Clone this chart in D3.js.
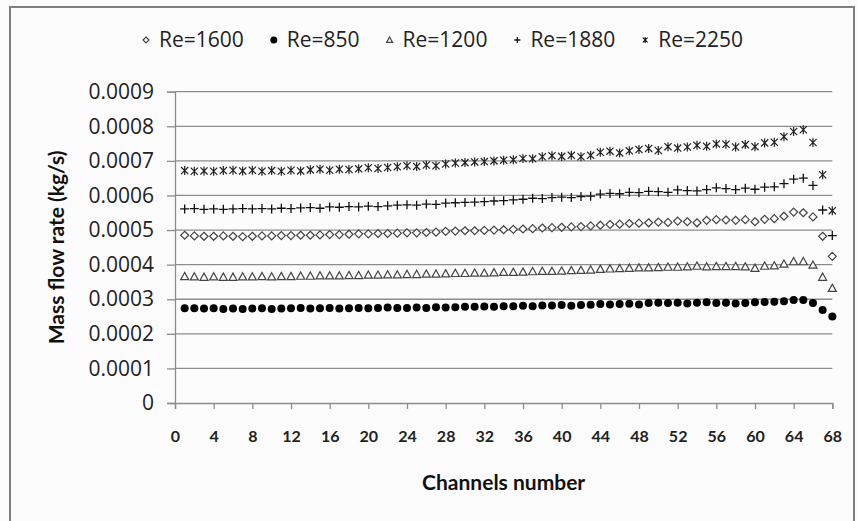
<!DOCTYPE html>
<html>
<head>
<meta charset="utf-8">
<script src="https://cdn.jsdelivr.net/npm/d3@7"></script>
<style>
  html, body { margin: 0; padding: 0; background: #fcfcfc; }
  svg { display: block; }
</style>
</head>
<body>
<svg id="chart" width="858" height="521"></svg>
<script>
// ---------------- DATA ----------------
const channels = d3.range(1, 69);
const xTicks = [0, 4, 8, 12, 16, 20, 24, 28, 32, 36, 40, 44, 48, 52, 56, 60, 64, 68];
const yTicks = [0, 0.0001, 0.0002, 0.0003, 0.0004, 0.0005, 0.0006, 0.0007, 0.0008, 0.0009];
const yTickLabels = ["0", "0.0001", "0.0002", "0.0003", "0.0004", "0.0005", "0.0006", "0.0007", "0.0008", "0.0009"];
const seriesNames = ["Re=1600", "Re=850", "Re=1200", "Re=1880", "Re=2250"];

const re1600 = [
  0.000485,0.000483,0.000482,0.000482,0.000483,0.000482,0.000481,0.000482,
  0.000483,0.000483,0.000484,0.000484,0.000485,0.000485,0.000486,0.000487,
  0.000487,0.000488,0.000489,0.000489,0.000490,0.000490,0.000491,0.000492,
  0.000492,0.000493,0.000494,0.000496,0.000497,0.000498,0.000498,0.000499,
  0.000500,0.000501,0.000502,0.000503,0.000504,0.000506,0.000507,0.000508,
  0.000509,0.000510,0.000512,0.000514,0.000516,0.000517,0.000519,0.000520,
  0.000521,0.000523,0.000522,0.000526,0.000524,0.000521,0.000528,0.000530,
  0.000529,0.000528,0.000530,0.000524,0.000531,0.000533,
  0.000540,0.000552,0.000550,0.000538,0.000482,0.000424
];
const re850 = [
  0.000274,0.000274,0.000273,0.000274,0.000272,0.000273,0.000272,0.000273,
  0.000274,0.000272,0.000273,0.000274,0.000275,0.000273,0.000274,0.000275,
  0.000273,0.000274,0.000275,0.000274,0.000275,0.000276,0.000275,0.000275,
  0.000276,0.000275,0.000277,0.000276,0.000277,0.000278,0.000278,0.000279,
  0.000278,0.000280,0.000280,0.000281,0.000280,0.000282,0.000282,0.000283,
  0.000281,0.000283,0.000284,0.000286,0.000285,0.000286,0.000287,0.000285,
  0.000289,0.000290,0.000289,0.000290,0.000288,0.000290,0.000291,0.000289,
  0.000290,0.000288,0.000289,0.000291,0.000292,0.000293,
  0.000294,0.000298,0.000298,0.000289,0.000269,0.000250
];
const re1200 = [
  0.000366,0.000365,0.000364,0.000365,0.000364,0.000364,0.000365,0.000365,
  0.000366,0.000365,0.000366,0.000366,0.000367,0.000367,0.000368,0.000368,
  0.000368,0.000369,0.000369,0.000370,0.000370,0.000371,0.000371,0.000372,
  0.000372,0.000373,0.000373,0.000374,0.000375,0.000375,0.000376,0.000376,
  0.000377,0.000378,0.000378,0.000379,0.000380,0.000381,0.000381,0.000382,
  0.000383,0.000384,0.000385,0.000387,0.000388,0.000389,0.000390,0.000391,
  0.000391,0.000392,0.000393,0.000393,0.000394,0.000396,0.000394,0.000395,
  0.000395,0.000395,0.000394,0.000390,0.000396,0.000397,
  0.000402,0.000409,0.000409,0.000399,0.000364,0.000332
];
const re1880 = [
  0.000561,0.000562,0.000560,0.000561,0.000560,0.000561,0.000562,0.000561,
  0.000562,0.000561,0.000563,0.000562,0.000564,0.000565,0.000563,0.000567,
  0.000566,0.000568,0.000567,0.000569,0.000568,0.000570,0.000572,0.000573,
  0.000572,0.000575,0.000574,0.000578,0.000579,0.000580,0.000581,0.000582,
  0.000584,0.000585,0.000587,0.000589,0.000592,0.000591,0.000594,0.000595,
  0.000594,0.000597,0.000598,0.000604,0.000606,0.000605,0.000609,0.000608,
  0.000612,0.000611,0.000609,0.000616,0.000614,0.000613,0.000617,0.000622,
  0.000620,0.000617,0.000621,0.000618,0.000624,0.000625,
  0.000634,0.000647,0.000650,0.000629,0.000558,0.000484
];
const re2250 = [
  0.000672,0.000670,0.000671,0.000670,0.000672,0.000673,0.000671,0.000673,
  0.000670,0.000672,0.000670,0.000673,0.000671,0.000674,0.000676,0.000673,
  0.000676,0.000675,0.000677,0.000680,0.000678,0.000681,0.000683,0.000686,
  0.000684,0.000688,0.000686,0.000691,0.000694,0.000695,0.000697,0.000698,
  0.000700,0.000702,0.000703,0.000707,0.000706,0.000712,0.000715,0.000713,
  0.000716,0.000712,0.000716,0.000725,0.000728,0.000723,0.000729,0.000733,
  0.000736,0.000730,0.000741,0.000737,0.000740,0.000745,0.000742,0.000749,
  0.000748,0.000740,0.000747,0.000741,0.000752,0.000754,
  0.000770,0.000785,0.000790,0.000753,0.000660,0.000556
];

// ---------------- CHART ----------------
const series = [
  { name: seriesNames[0], values: re1600, marker: "diamond" },
  { name: seriesNames[1], values: re850,  marker: "dot" },
  { name: seriesNames[2], values: re1200, marker: "triangle" },
  { name: seriesNames[3], values: re1880, marker: "plus" },
  { name: seriesNames[4], values: re2250, marker: "star" }
];

const svg = d3.select("#chart");
const W = 858, H = 521;
const plot = { left: 175, right: 832.3, top: 91.7, bottom: 403 };

svg.append("rect").attr("x", 0).attr("y", 0).attr("width", W).attr("height", H).attr("fill", "#fcfcfc");
// chart frame
svg.append("rect").attr("x", 10).attr("y", 7).attr("width", 844).attr("height", 520)
  .attr("fill", "none").attr("stroke", "#7f7f7f").attr("stroke-width", 2);

const x = d3.scaleLinear().domain([0, 68]).range([plot.left, plot.right]);
const y = d3.scaleLinear().domain([0, 0.0009]).range([plot.bottom, plot.top]);

// gridlines
svg.append("g").selectAll("line").data(yTicks.filter(d => d > 0)).join("line")
  .attr("x1", plot.left).attr("x2", plot.right)
  .attr("y1", d => y(d)).attr("y2", d => y(d))
  .attr("stroke", "#8c8c8c").attr("stroke-width", 1.3);

// y axis
const yAxis = d3.axisLeft(y).tickValues(yTicks).tickSize(8).tickPadding(13)
  .tickFormat((d, i) => yTickLabels[i]);
const gy = svg.append("g").attr("transform", `translate(${plot.left},0)`).call(yAxis);
gy.select(".domain").attr("stroke", "#8c8c8c").attr("stroke-width", 1.3);
gy.selectAll(".tick line").attr("stroke", "#8c8c8c").attr("stroke-width", 1.3);
gy.selectAll(".tick text").attr("font-family", "'Open Sans', sans-serif")
  .attr("font-size", 21).attr("fill", "#222");

// x axis
const xAxis = d3.axisBottom(x).tickValues(xTicks).tickSize(6).tickPadding(22)
  .tickFormat(d3.format("d"));
const gx = svg.append("g").attr("transform", `translate(0,${plot.bottom})`).call(xAxis);
gx.select(".domain").attr("stroke", "#8c8c8c").attr("stroke-width", 1.3);
gx.selectAll(".tick line").attr("stroke", "#8c8c8c").attr("stroke-width", 1.3);
gx.selectAll(".tick text").attr("font-family", "Lato, sans-serif").attr("font-weight", "bold")
  .attr("font-size", 16).attr("fill", "#222");

// axis titles
svg.append("text").attr("x", (plot.left + plot.right) / 2).attr("y", 490)
  .attr("text-anchor", "middle").attr("font-family", "Lato, sans-serif").attr("font-weight", "bold")
  .attr("font-size", 21).attr("fill", "#111").text("Channels number");
svg.append("text").attr("transform", `translate(64,${(plot.top + plot.bottom) / 2}) rotate(-90)`)
  .attr("text-anchor", "middle").attr("font-family", "Lato, sans-serif").attr("font-weight", "bold")
  .attr("font-size", 21).attr("fill", "#111").text("Mass flow rate (kg/s)");

// marker drawing
function drawMarker(g, type, s) {
  const h = s / 2;
  if (type === "diamond") {
    g.append("path").attr("d", `M0,${-h}L${h},0L0,${h}L${-h},0Z`)
      .attr("fill", "#fcfcfc").attr("stroke", "#444").attr("stroke-width", 1.2);
  } else if (type === "dot") {
    g.append("circle").attr("r", h).attr("fill", "#000");
  } else if (type === "triangle") {
    g.append("path").attr("d", `M0,${-h}L${h},${h * 0.8}L${-h},${h * 0.8}Z`)
      .attr("fill", "#fcfcfc").attr("stroke", "#444").attr("stroke-width", 1.2);
  } else if (type === "plus") {
    g.append("path").attr("d", `M${-h},0L${h},0M0,${-h}L0,${h}`)
      .attr("stroke", "#111").attr("stroke-width", 1.3).attr("fill", "none");
  } else if (type === "star") {
    g.append("path").attr("d", `M0,${-h}L0,${h}M${-h * 0.8},${-h * 0.8}L${h * 0.8},${h * 0.8}M${-h * 0.8},${h * 0.8}L${h * 0.8},${-h * 0.8}`)
      .attr("stroke", "#222").attr("stroke-width", 1.2).attr("fill", "none");
  }
}

const markerSize = { diamond: 8, dot: 8, triangle: 8, plus: 9, star: 9 };

series.forEach(s => {
  const g = svg.append("g");
  g.selectAll("g").data(s.values.map((v, i) => ({ c: channels[i], v }))).join("g")
    .attr("transform", d => `translate(${x(d.c)},${y(d.v)})`)
    .each(function () { drawMarker(d3.select(this), s.marker, markerSize[s.marker]); });
});

// legend
const legend = svg.append("g");
let lx = 146;
const ly = 40;
series.forEach(s => {
  const item = legend.append("g").attr("transform", `translate(${lx},${ly})`);
  drawMarker(item, s.marker, s.marker === "dot" ? 7 : 6);
  const t = item.append("text").attr("x", 13).attr("y", 7)
    .attr("font-family", "'Open Sans', sans-serif").attr("font-size", 21).attr("fill", "#222")
    .text(s.name);
  const w = t.node().getComputedTextLength();
  lx += 13 + w + 30;
});
</script>
</body>
</html>
